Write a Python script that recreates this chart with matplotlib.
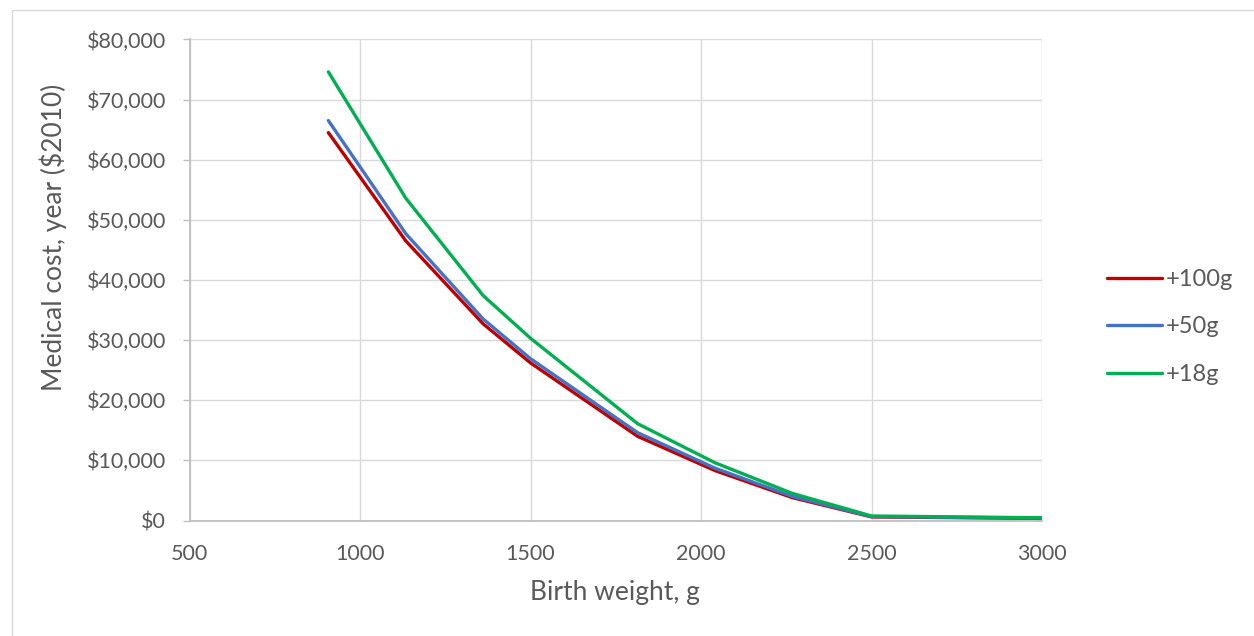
import matplotlib
matplotlib.use("Agg")
import matplotlib.pyplot as plt
from matplotlib.patches import Rectangle
from matplotlib.ticker import FuncFormatter

# ---- data ----
birth_weight = [907, 1134, 1361, 1500, 1814, 2041, 2268, 2500, 3000]
cost_100g = [64500, 46500, 32700, 26200, 14000, 8300, 3800, 600, 350]
cost_50g = [66500, 47700, 33500, 26900, 14600, 8700, 4000, 650, 400]
cost_18g = [74600, 53600, 37400, 30300, 16100, 9600, 4500, 750, 450]
series_labels = ["+100g", "+50g", "+18g"]
series_colors = ["#C00000", "#4472C4", "#00B050"]
x_ticks = [500, 1000, 1500, 2000, 2500, 3000]
y_ticks = [0, 10000, 20000, 30000, 40000, 50000, 60000, 70000, 80000]
x_title = "Birth weight, g"
y_title = "Medical cost, year ($2010)"

TEXT = "#595959"
FONT = ["Lato", "DejaVu Sans"]
plt.rcParams["font.family"] = FONT

W, H = 1254, 636
fig = plt.figure(figsize=(W / 100, H / 100), dpi=100)
fig.patch.set_facecolor("white")

# outer chart border
fig.add_artist(Rectangle((11.5 / W, -0.05), 1.1, (H - 9.5) / H + 0.05,
                         transform=fig.transFigure, fill=False,
                         ec="#d9d9d9", lw=1.0))

left, right, top, bottom = 189.6, 1042, 39.4, 520.5
ax = fig.add_axes([left / W, (H - bottom) / H, (right - left) / W, (bottom - top) / H])

series = [cost_100g, cost_50g, cost_18g]
handles = []
for vals, lab, col in zip(series, series_labels, series_colors):
    h, = ax.plot(birth_weight, vals, color=col, lw=2.4, label=lab,
                 solid_capstyle="round", solid_joinstyle="round", zorder=3)
    handles.append(h)

ax.set_xlim(500, 3000)
ax.set_ylim(0, 80000)
ax.set_xticks(x_ticks)
ax.set_yticks(y_ticks)
ax.yaxis.set_major_formatter(FuncFormatter(lambda v, p: f"${v:,.0f}"))

ax.grid(True, color="#d9d9d9", lw=1.0, zorder=0)
ax.set_axisbelow(True)
for s in ["top", "right"]:
    ax.spines[s].set_visible(False)
for s in ["left", "bottom"]:
    ax.spines[s].set_color("#bfbfbf")
    ax.spines[s].set_linewidth(1.3)

ax.tick_params(axis="y", length=5, width=1, color="#bfbfbf", pad=12,
               labelsize=15.5, labelcolor=TEXT)
ax.tick_params(axis="x", length=0, pad=17, labelsize=15.5, labelcolor=TEXT)

fig.text(53 / W, (H - 237) / H, y_title, rotation=90, ha="center", va="center",
         fontsize=19, color=TEXT)
fig.text(615 / W, (H - 600) / H, x_title, ha="center", va="baseline",
         fontsize=19, color=TEXT)

leg = fig.legend(handles=handles, labels=series_labels, loc="upper left",
                 bbox_to_anchor=(1107 / W, (H - 269) / H), frameon=False,
                 borderpad=0, borderaxespad=0, handlelength=2.33,
                 handletextpad=0.17, labelspacing=1.12, fontsize=17)
for t in leg.get_texts():
    t.set_color(TEXT)

fig.savefig("out.png", dpi=100, facecolor="white")
